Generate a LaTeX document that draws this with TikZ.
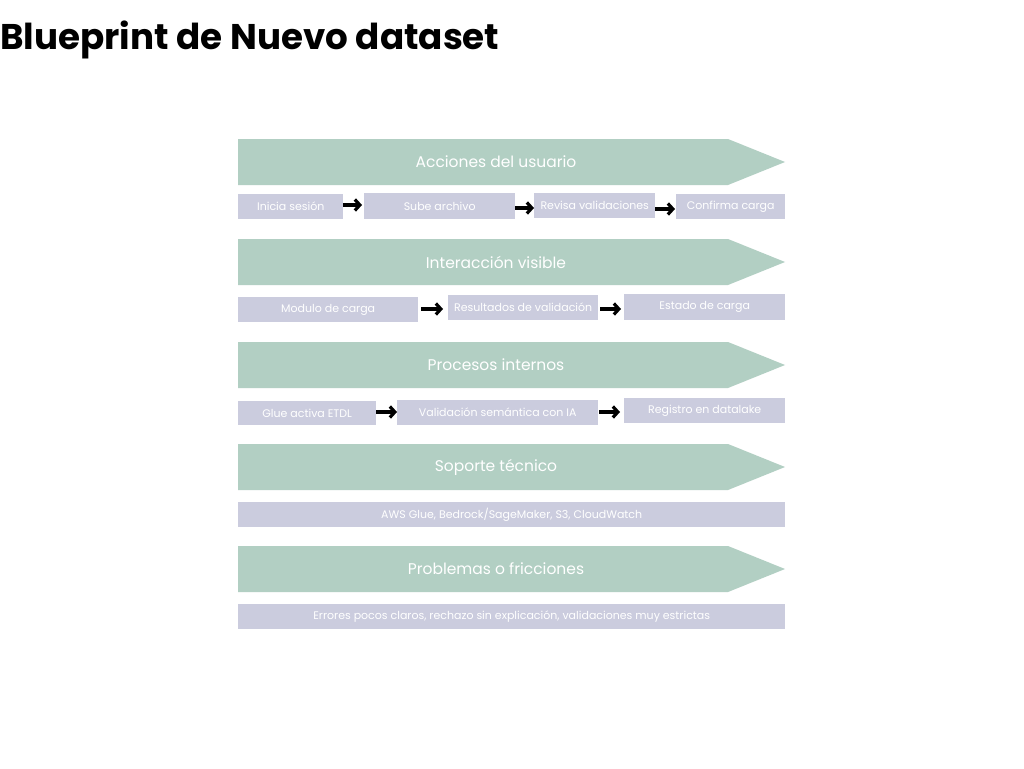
\documentclass[tikz,border=0pt]{standalone}
\usepackage{fontspec}
\setmainfont{Poppins}
\usetikzlibrary{arrows.meta}
\definecolor{bannergreen}{HTML}{B2CFC3}
\definecolor{boxlav}{HTML}{CBCCDE}
\begin{document}
\begin{tikzpicture}[x=1pt,y=-1pt,
  bannertext/.style={text=white,font=\fontsize{15.5}{18}\selectfont,inner sep=0pt},
  stepbox/.style={fill=boxlav,text=white,font=\fontsize{11}{13}\selectfont,inner sep=0pt,anchor=north west},
  flow/.style={line width=3.2pt,-{Straight Barb[length=5pt,width=11pt]},black}
]
\useasboundingbox (0,0) rectangle (1024,768);
\fill[white] (0,0) rectangle (1024,768);
\node[anchor=base west,inner sep=0pt,font=\fontsize{35.7}{40}\selectfont\bfseries] (title) at (0,49) {Blueprint de Nuevo dataset};

% banners
\foreach \y/\t/\n in {139/Acciones del usuario/b1,239/Interacción visible/b2,342/Procesos internos/b3,444/Soporte técnico/b4,546/Problemas o fricciones/b5}{
  \fill[bannergreen] (238,\y) -- (728,\y) -- (785,\y+23) -- (728,\y+46) -- (238,\y+46) -- cycle;
  \node[bannertext] (\n) at (496,\y+23) {\t};
}

% row 1
\node[stepbox,minimum width=105,minimum height=25] (r1a) at (238,194) {Inicia sesión};
\node[stepbox,minimum width=151,minimum height=26] (r1b) at (364,193) {Sube archivo};
\node[stepbox,minimum width=121,minimum height=25] (r1c) at (534,193) {Revisa validaciones};
\node[stepbox,minimum width=109,minimum height=25] (r1d) at (676,194) {Confirma carga};
\coordinate (a1s) at (343,205); \coordinate (a1e) at (362,205);
\coordinate (a2s) at (515,208); \coordinate (a2e) at (534,208);
\coordinate (a3s) at (655,209); \coordinate (a3e) at (675,209);
\draw[flow] (a1s) -- (a1e);
\draw[flow] (a2s) -- (a2e);
\draw[flow] (a3s) -- (a3e);

% row 2
\node[stepbox,minimum width=180,minimum height=25] (r2a) at (238,297) {Modulo de carga};
\node[stepbox,minimum width=150,minimum height=25] (r2b) at (448,295) {Resultados de validación};
\node[stepbox,minimum width=161,minimum height=26] (r2c) at (624,294) {Estado de carga};
\coordinate (b1s) at (421,309); \coordinate (b1e) at (443,309);
\coordinate (b2s) at (600,309); \coordinate (b2e) at (621,309);
\draw[flow] (b1s) -- (b1e);
\draw[flow] (b2s) -- (b2e);

% row 3
\node[stepbox,minimum width=138,minimum height=24] (r3a) at (238,401) {Glue activa ETDL};
\node[stepbox,minimum width=201,minimum height=25] (r3b) at (397,400) {Validación semántica con IA};
\node[stepbox,minimum width=161,minimum height=25] (r3c) at (624,398) {Registro en datalake};
\coordinate (c1s) at (376,412); \coordinate (c1e) at (397,412);
\coordinate (c2s) at (599,412); \coordinate (c2e) at (620,412);
\draw[flow] (c1s) -- (c1e);
\draw[flow] (c2s) -- (c2e);

% rows 4-5
\node[stepbox,minimum width=547,minimum height=25] (r4) at (238,502) {AWS Glue, Bedrock/SageMaker, S3, CloudWatch};
\node[stepbox,minimum width=547,minimum height=25] (r5) at (238,604) {Errores pocos claros, rechazo sin explicación, validaciones muy estrictas};
\end{tikzpicture}
\end{document}
